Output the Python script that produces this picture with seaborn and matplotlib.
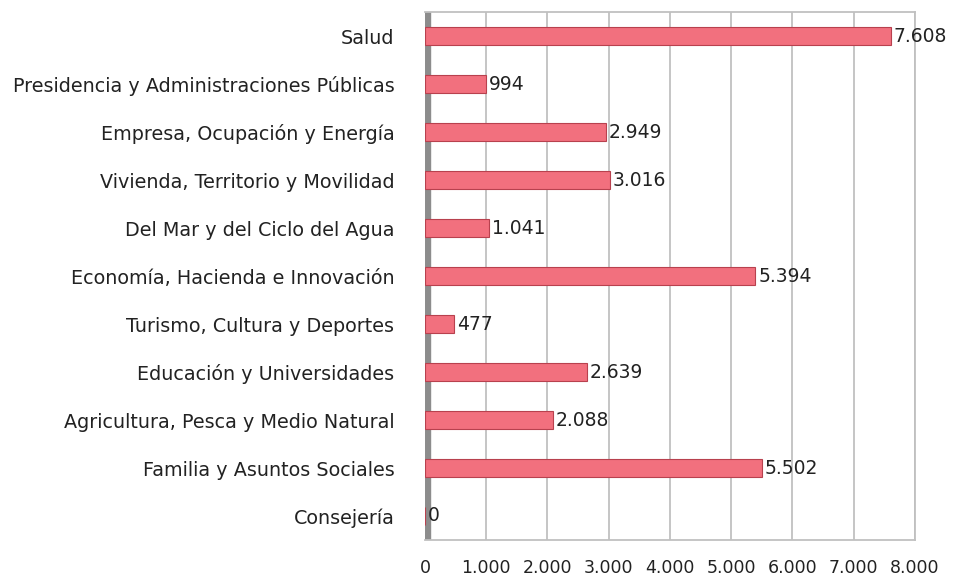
import pandas as pd
import seaborn as sns
import matplotlib.pyplot as plt
from matplotlib.ticker import FuncFormatter

sns.set_style("white")
plt.rcParams['font.family'] = ['DejaVu Sans']

consejerias = [
    "Salud",
    "Presidencia y Administraciones Públicas",
    "Empresa, Ocupación y Energía",
    "Vivienda, Territorio y Movilidad",
    "Del Mar y del Ciclo del Agua",
    "Economía, Hacienda e Innovación",
    "Turismo, Cultura y Deportes",
    "Educación y Universidades",
    "Agricultura, Pesca y Medio Natural",
    "Familia y Asuntos Sociales",
    "Consejería",
]
importes = [7608, 994, 2949, 3016, 1041, 5394, 477, 2639, 2088, 5502, 0]
x_ticks = [0, 1000, 2000, 3000, 4000, 5000, 6000, 7000, 8000]

df = pd.DataFrame({"Consejeria": consejerias, "Importe": importes})


def miles(v, pos=None):
    return f"{int(v):,}".replace(",", ".")


fig = plt.figure(figsize=(9.55, 5.8), dpi=100)
ax = fig.add_axes([0.445, 0.069, 0.513, 0.910])

sns.barplot(data=df, x="Importe", y="Consejeria", color="#F2707E",
            width=0.38, saturation=1, edgecolor="#B8414E", linewidth=0.8,
            ax=ax, zorder=3)

# back wall / grid look of the original 3D chart
ax.set_xlim(0, 8000)
ax.set_xticks(x_ticks)
ax.xaxis.set_major_formatter(FuncFormatter(miles))
ax.grid(axis="x", color="#C0C0C0", linewidth=1.3, zorder=0)
ax.axvspan(0, 90, color="#8C8C8C", zorder=1)
for side in ["top", "right", "bottom"]:
    ax.spines[side].set_color("#C0C0C0")
    ax.spines[side].set_linewidth(1.3)
ax.spines["left"].set_visible(False)

ax.bar_label(ax.containers[0], labels=[miles(v) for v in importes],
             padding=2, fontsize=13.5, color="#222222")

ax.set_xlabel("")
ax.set_ylabel("")
ax.tick_params(axis="y", length=0, pad=22, labelsize=13.8, labelcolor="#222222")
ax.tick_params(axis="x", length=0, pad=14, labelsize=12.5, labelcolor="#222222")

plt.savefig("out.png", dpi=100)
